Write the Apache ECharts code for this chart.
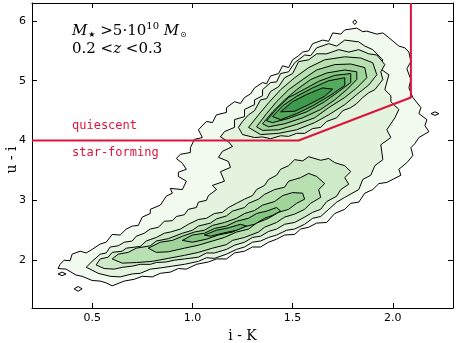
<!DOCTYPE html>
<html>
<head>
<meta charset="utf-8">
<script src="https://cdn.jsdelivr.net/npm/echarts@6/dist/echarts.min.js"></script>
<style>
  html, body { margin: 0; padding: 0; background: #fff; }
  #chart { width: 458px; height: 343px; }
</style>
</head>
<body>
<div id="chart"></div>
<script>
// tick labels
const xTicks = [0.5, 1.0, 1.5, 2.0];
const yTicks = [2, 3, 4, 5, 6];

// contour fill colours, lowest level first
const levelColors = ['#f2f9ef', '#e3f3de', '#cfeac8', '#b8e0b1', '#a0d49a', '#87c784', '#6eb96f', '#55aa5d', '#3f9a4d'];

// contour outlines [i-K, u-i]
const bothL1 = [[0.34,1.93],[0.36,2.00],[0.39,1.99],[0.40,2.10],[0.44,2.15],[0.47,2.12],[0.50,2.18],[0.54,2.27],[0.57,2.30],[0.60,2.43],[0.64,2.42],[0.67,2.52],[0.70,2.57],[0.73,2.58],[0.75,2.72],[0.79,2.78],[0.79,2.85],[0.84,2.92],[0.87,3.07],[0.90,3.12],[0.89,3.20],[0.95,3.18],[0.97,3.32],[0.93,3.40],[0.93,3.47],[0.97,3.52],[0.95,3.62],[0.92,3.70],[0.94,3.77],[0.99,3.80],[0.99,3.88],[1.01,4.02],[1.05,4.05],[1.03,4.18],[1.07,4.32],[1.10,4.30],[1.12,4.43],[1.17,4.47],[1.17,4.55],[1.21,4.65],[1.24,4.62],[1.26,4.72],[1.29,4.78],[1.31,4.88],[1.35,4.97],[1.37,4.95],[1.39,5.08],[1.43,5.12],[1.45,5.25],[1.48,5.22],[1.50,5.35],[1.53,5.42],[1.55,5.48],[1.58,5.50],[1.60,5.62],[1.65,5.68],[1.68,5.66],[1.70,5.80],[1.74,5.78],[1.76,5.85],[1.82,5.88],[1.85,5.82],[1.87,5.83],[1.92,5.78],[1.95,5.80],[1.98,5.72],[2.03,5.58],[2.06,5.55],[2.08,5.48],[2.09,5.32],[2.07,5.20],[2.09,5.02],[2.08,4.88],[2.10,4.72],[2.14,4.55],[2.13,4.45],[2.17,4.35],[2.16,4.25],[2.18,4.15],[2.13,4.05],[2.11,3.95],[2.09,3.88],[2.10,3.75],[2.07,3.63],[2.03,3.52],[2.04,3.42],[1.97,3.30],[1.93,3.28],[1.90,3.18],[1.86,3.12],[1.83,2.97],[1.79,2.95],[1.76,2.85],[1.71,2.78],[1.67,2.63],[1.62,2.62],[1.58,2.55],[1.54,2.52],[1.51,2.43],[1.46,2.42],[1.42,2.35],[1.38,2.30],[1.34,2.22],[1.30,2.22],[1.26,2.15],[1.21,2.12],[1.17,2.02],[1.12,2.02],[1.08,1.97],[1.02,1.93],[0.97,1.85],[0.93,1.86],[0.89,1.80],[0.84,1.78],[0.80,1.72],[0.75,1.73],[0.71,1.68],[0.66,1.65],[0.60,1.57],[0.57,1.62],[0.54,1.65],[0.50,1.66],[0.45,1.73],[0.42,1.75],[0.37,1.85],[0.33,1.86]];
const bothL2 = [[0.47,1.88],[0.50,1.98],[0.54,2.10],[0.57,2.12],[0.59,2.22],[0.63,2.24],[0.66,2.30],[0.70,2.32],[0.72,2.40],[0.76,2.45],[0.79,2.52],[0.83,2.55],[0.86,2.65],[0.90,2.66],[0.92,2.73],[0.96,2.76],[0.98,2.85],[1.02,2.88],[1.03,2.97],[1.07,3.00],[1.08,3.08],[1.12,3.18],[1.10,3.25],[1.16,3.32],[1.14,3.48],[1.19,3.55],[1.18,3.65],[1.13,3.72],[1.15,3.82],[1.20,3.90],[1.18,3.98],[1.14,4.06],[1.16,4.15],[1.21,4.22],[1.21,4.35],[1.26,4.40],[1.26,4.52],[1.31,4.60],[1.31,4.68],[1.35,4.75],[1.35,4.85],[1.39,4.97],[1.42,4.98],[1.44,5.12],[1.48,5.15],[1.51,5.30],[1.56,5.43],[1.59,5.42],[1.62,5.55],[1.68,5.62],[1.72,5.58],[1.76,5.68],[1.83,5.65],[1.86,5.58],[1.90,5.52],[1.95,5.35],[1.93,5.22],[1.98,5.10],[1.96,4.85],[1.99,4.75],[1.99,4.65],[2.03,4.52],[2.01,4.38],[1.97,4.18],[1.99,4.05],[1.94,3.93],[1.95,3.68],[1.91,3.58],[1.89,3.42],[1.85,3.35],[1.83,3.18],[1.76,3.05],[1.72,2.97],[1.69,2.88],[1.64,2.73],[1.60,2.70],[1.56,2.60],[1.51,2.52],[1.47,2.50],[1.42,2.42],[1.38,2.38],[1.34,2.32],[1.30,2.30],[1.26,2.22],[1.22,2.18],[1.17,2.10],[1.11,2.03],[1.07,2.04],[1.03,1.98],[0.96,1.93],[0.90,1.90],[0.84,1.87],[0.79,1.85],[0.74,1.78],[0.70,1.77],[0.64,1.72],[0.59,1.73],[0.53,1.78],[0.49,1.85]];
const lowL3 = [[0.52,1.92],[0.54,2.02],[0.58,2.05],[0.60,2.13],[0.65,2.15],[0.67,2.20],[0.74,2.23],[0.77,2.32],[0.82,2.38],[0.86,2.45],[0.89,2.47],[0.94,2.52],[0.98,2.60],[1.03,2.68],[1.07,2.70],[1.11,2.78],[1.15,2.80],[1.18,2.88],[1.22,2.95],[1.26,3.02],[1.30,3.08],[1.32,3.18],[1.36,3.25],[1.38,3.35],[1.42,3.42],[1.44,3.52],[1.48,3.58],[1.51,3.68],[1.55,3.66],[1.58,3.73],[1.64,3.67],[1.68,3.70],[1.71,3.63],[1.76,3.58],[1.79,3.48],[1.76,3.38],[1.78,3.27],[1.74,3.18],[1.72,3.07],[1.67,2.98],[1.64,2.85],[1.60,2.80],[1.56,2.72],[1.51,2.63],[1.46,2.60],[1.42,2.52],[1.38,2.48],[1.34,2.40],[1.30,2.38],[1.26,2.30],[1.21,2.25],[1.17,2.18],[1.11,2.12],[1.07,2.12],[1.03,2.05],[0.96,2.02],[0.91,2.00],[0.87,1.97],[0.82,1.96],[0.79,1.93],[0.74,1.93],[0.70,1.90],[0.65,1.88],[0.61,1.85],[0.56,1.86]];
const lowL4 = [[0.60,2.02],[0.63,2.10],[0.68,2.13],[0.72,2.20],[0.79,2.24],[0.82,2.32],[0.88,2.36],[0.95,2.45],[1.00,2.50],[1.03,2.57],[1.09,2.62],[1.12,2.69],[1.17,2.74],[1.20,2.82],[1.26,2.88],[1.28,2.95],[1.33,3.02],[1.36,3.10],[1.41,3.18],[1.46,3.22],[1.48,3.32],[1.54,3.38],[1.58,3.45],[1.62,3.40],[1.66,3.28],[1.63,3.18],[1.64,3.05],[1.59,2.95],[1.56,2.85],[1.51,2.77],[1.46,2.72],[1.42,2.63],[1.36,2.55],[1.33,2.47],[1.26,2.38],[1.20,2.33],[1.17,2.26],[1.10,2.20],[1.03,2.13],[0.96,2.08],[0.88,2.03],[0.80,1.98],[0.72,1.96],[0.65,1.95]];
const lowL5 = [[0.78,2.20],[0.84,2.30],[0.90,2.33],[0.95,2.40],[1.01,2.47],[1.06,2.50],[1.10,2.58],[1.16,2.63],[1.22,2.70],[1.26,2.78],[1.31,2.83],[1.35,2.92],[1.41,2.98],[1.45,3.08],[1.50,3.13],[1.55,3.12],[1.56,3.02],[1.52,2.95],[1.48,2.85],[1.43,2.80],[1.38,2.70],[1.32,2.62],[1.28,2.52],[1.22,2.47],[1.16,2.38],[1.10,2.32],[1.03,2.25],[0.96,2.20],[0.88,2.14],[0.82,2.13]];
const lowL6 = [[0.95,2.33],[1.00,2.42],[1.06,2.45],[1.11,2.53],[1.17,2.57],[1.22,2.65],[1.28,2.70],[1.32,2.78],[1.37,2.82],[1.42,2.88],[1.44,2.82],[1.40,2.75],[1.36,2.70],[1.31,2.60],[1.25,2.55],[1.20,2.47],[1.13,2.42],[1.07,2.35],[1.00,2.30]];
const lowL7 = [[1.06,2.42],[1.12,2.50],[1.18,2.54],[1.24,2.60],[1.27,2.57],[1.22,2.50],[1.15,2.45],[1.09,2.40]];
const upL3 = [[1.23,4.22],[1.25,4.32],[1.28,4.43],[1.31,4.50],[1.34,4.68],[1.37,4.70],[1.39,4.82],[1.43,4.90],[1.46,5.05],[1.50,5.12],[1.53,5.32],[1.58,5.35],[1.62,5.45],[1.67,5.45],[1.73,5.52],[1.78,5.48],[1.83,5.52],[1.88,5.45],[1.92,5.43],[1.96,5.27],[1.94,5.15],[1.95,5.02],[1.91,4.85],[1.88,4.80],[1.85,4.72],[1.82,4.62],[1.79,4.55],[1.75,4.50],[1.72,4.38],[1.67,4.32],[1.64,4.22],[1.60,4.20],[1.56,4.12],[1.52,4.12],[1.48,4.07],[1.44,4.08],[1.39,4.03],[1.35,4.06],[1.31,4.05],[1.25,4.10]];
const upL4 = [[1.28,4.22],[1.33,4.43],[1.38,4.63],[1.44,4.85],[1.51,5.05],[1.58,5.22],[1.66,5.35],[1.76,5.40],[1.84,5.38],[1.90,5.30],[1.92,5.10],[1.88,4.93],[1.82,4.77],[1.76,4.60],[1.68,4.43],[1.61,4.30],[1.52,4.18],[1.43,4.12],[1.34,4.10]];
const upL5 = [[1.32,4.23],[1.37,4.45],[1.42,4.65],[1.48,4.85],[1.55,5.02],[1.62,5.18],[1.71,5.27],[1.79,5.28],[1.86,5.22],[1.87,5.05],[1.82,4.88],[1.76,4.72],[1.68,4.55],[1.61,4.38],[1.52,4.27],[1.43,4.18],[1.35,4.17]];
const upL6 = [[1.35,4.28],[1.40,4.48],[1.46,4.68],[1.52,4.85],[1.59,5.02],[1.67,5.13],[1.76,5.18],[1.82,5.15],[1.82,5.02],[1.77,4.85],[1.71,4.68],[1.64,4.52],[1.55,4.38],[1.46,4.28],[1.38,4.23]];
const upL7 = [[1.37,4.33],[1.42,4.53],[1.48,4.72],[1.56,4.86],[1.63,4.99],[1.71,5.09],[1.79,5.12],[1.79,4.97],[1.73,4.82],[1.66,4.65],[1.57,4.48],[1.48,4.37],[1.40,4.30]];
const upL8 = [[1.40,4.40],[1.45,4.58],[1.52,4.74],[1.60,4.88],[1.68,5.00],[1.76,5.05],[1.76,4.92],[1.69,4.76],[1.60,4.58],[1.52,4.45],[1.44,4.35]];
const upL9 = [[1.44,4.48],[1.50,4.65],[1.57,4.77],[1.65,4.88],[1.70,4.86],[1.66,4.74],[1.58,4.60],[1.51,4.49]];
// small isolated loops
const islandA = [[0.33,1.77],[0.35,1.80],[0.37,1.77],[0.35,1.74]];
const islandB = [[0.41,1.52],[0.43,1.56],[0.45,1.52],[0.43,1.48]];
const islandC = [[1.80,5.98],[1.81,6.02],[1.82,5.98],[1.81,5.94]];
const islandD = [[2.19,4.45],[2.21,4.48],[2.23,4.45],[2.21,4.42]];

// selection boundary
const cutLine = [[0.2, 4.0], [1.53, 4.0], [2.09, 4.72], [2.09, 6.3]];

const contours = [
  { level: 0, pts: bothL1 }, { level: 0, pts: islandA }, { level: 0, pts: islandB },
  { level: 0, pts: islandC }, { level: 0, pts: islandD },
  { level: 1, pts: bothL2 },
  { level: 2, pts: lowL3 }, { level: 3, pts: lowL4 }, { level: 4, pts: lowL5 }, { level: 5, pts: lowL6 }, { level: 6, pts: lowL7 },
  { level: 2, pts: upL3 }, { level: 3, pts: upL4 }, { level: 4, pts: upL5 }, { level: 5, pts: upL6 },
  { level: 6, pts: upL7 }, { level: 7, pts: upL8 }, { level: 8, pts: upL9 }
];

const chart = echarts.init(document.getElementById('chart'));

const tickStyle = { inside: true, length: 5, lineStyle: { color: '#000' } };

chart.setOption({
  animation: false,
  grid: { left: 32, right: 5, top: 3, bottom: 35, outerBoundsMode: 'none' },
  xAxis: [
    {
      type: 'value', min: 0.2, max: 2.3,
      name: 'i - K', nameLocation: 'middle', nameGap: 18,
      nameTextStyle: { fontFamily: 'DejaVu Serif', fontSize: 14, color: '#000' },
      axisLine: { lineStyle: { color: '#000' } },
      axisTick: { ...tickStyle, customValues: xTicks },
      axisLabel: { customValues: xTicks, formatter: v => v.toFixed(1), color: '#000', fontFamily: 'DejaVu Sans', fontSize: 11, margin: 5 },
      splitLine: { show: false }
    },
    {
      type: 'value', min: 0.2, max: 2.3, position: 'top',
      axisLine: { lineStyle: { color: '#000' } },
      axisTick: { ...tickStyle, customValues: xTicks },
      axisLabel: { show: false },
      splitLine: { show: false }
    }
  ],
  yAxis: [
    {
      type: 'value', min: 1.2, max: 6.3,
      axisLine: { lineStyle: { color: '#000' } },
      axisTick: { ...tickStyle, customValues: yTicks },
      axisLabel: { customValues: yTicks, color: '#000', fontFamily: 'DejaVu Sans', fontSize: 11, margin: 6 },
      splitLine: { show: false }
    },
    {
      type: 'value', min: 1.2, max: 6.3, position: 'right',
      axisLine: { lineStyle: { color: '#000' } },
      axisTick: { ...tickStyle, customValues: yTicks },
      axisLabel: { show: false },
      splitLine: { show: false }
    }
  ],
  series: [
    {
      type: 'custom',
      coordinateSystem: 'cartesian2d',
      z: 2,
      data: contours.map(c => c.pts[0]),
      renderItem: (params, api) => {
        const c = contours[params.dataIndex];
        return {
          type: 'polygon',
          shape: { points: c.pts.map(p => api.coord(p)) },
          style: { fill: levelColors[c.level], stroke: '#000', lineWidth: 1 }
        };
      }
    },
    {
      type: 'line',
      z: 3,
      data: cutLine,
      symbol: 'none',
      lineStyle: { color: '#dc143c', width: 2 }
    }
  ],
  graphic: [
    {
      // y axis title
      type: 'text', x: 12, y: 160, rotation: Math.PI / 2, z: 10,
      style: { text: 'u - i', fontFamily: 'DejaVu Serif', fontSize: 14, fill: '#000', align: 'center', verticalAlign: 'middle' }
    },
    {
      type: 'text', left: 72, top: 21, z: 10,
      style: {
        text: '{it|M}{sub|★}{n| >5·10}{sup|10}{it| M}{sub|⊙}',
        rich: {
          it: { fontFamily: 'DejaVu Serif', fontStyle: 'italic', fontSize: 15, lineHeight: 18, verticalAlign: 'bottom' },
          n: { fontFamily: 'DejaVu Serif', fontSize: 15, lineHeight: 18, verticalAlign: 'bottom' },
          sub: { fontFamily: 'DejaVu Sans', fontSize: 8, lineHeight: 8, verticalAlign: 'bottom', padding: [0, 0, 0, 1] },
          sup: { fontFamily: 'DejaVu Serif', fontSize: 10, lineHeight: 10, verticalAlign: 'top' }
        },
        fill: '#000'
      }
    },
    {
      type: 'text', left: 72, top: 42, z: 10,
      style: {
        text: '{n|0.2 <}{it|z}{n| <0.3}',
        rich: {
          it: { fontFamily: 'DejaVu Serif', fontStyle: 'italic', fontSize: 15 },
          n: { fontFamily: 'DejaVu Serif', fontSize: 15 }
        },
        fill: '#000'
      }
    },
    {
      type: 'text', left: 72, top: 120, z: 10,
      style: { text: 'quiescent', fontFamily: 'DejaVu Sans Mono', fontSize: 12, fill: '#dc143c' }
    },
    {
      type: 'text', left: 72, top: 147, z: 10,
      style: { text: 'star-forming', fontFamily: 'DejaVu Sans Mono', fontSize: 12, fill: '#dc143c' }
    }
  ]
});
</script>
</body>
</html>
